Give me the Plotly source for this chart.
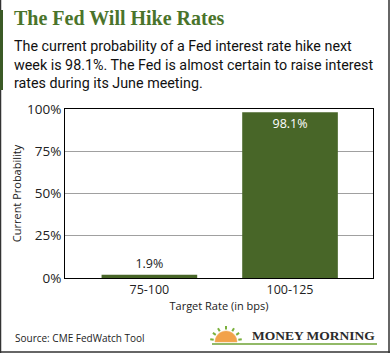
import plotly.graph_objects as go
import math

# ---- data ----
categories = ["75-100", "100-125"]
probabilities = [1.9, 98.1]
y_ticks = [0, 25, 50, 75, 100]
y_tick_labels = ["0%", "25%", "50%", "75%", "100%"]

W, H = 390, 353
L, R, T, B = 65, 17, 109, 75
PW, PH = W - L - R, H - T - B

def px(x):
    return (x - L) / PW

def py(y):
    return (H - B - y) / PH

BAR = "#486628"
GREEN_TITLE = "#4a742b"
TXT = "#222222"
FONT = "Open Sans, Noto Sans, sans-serif"

fig = go.Figure()
fig.add_trace(go.Bar(
    x=categories, y=probabilities,
    marker=dict(color=BAR, line=dict(width=0)),
    width=0.68,
    text=[f"{v}%" for v in probabilities],
    textposition=["outside", "inside"],
    insidetextanchor="end",
    textfont=dict(color=[TXT, "white"], size=12.5, family=FONT),
    cliponaxis=False,
    hoverinfo="skip",
))

fig.update_layout(
    width=W, height=H,
    margin=dict(l=L, r=R, t=T, b=B),
    paper_bgcolor="white", plot_bgcolor="white",
    showlegend=False,
    font=dict(family=FONT, color=TXT, size=12),
    xaxis=dict(type="category", range=[-0.6, 1.59], showline=True, mirror=True,
               linecolor="black", linewidth=1, ticks="", showgrid=False,
               tickfont=dict(size=12.5, color=TXT),
               title=dict(text="Target Rate (in bps)", font=dict(size=11, color=TXT), standoff=4)),
    yaxis=dict(range=[0, 100], tickvals=y_ticks, ticktext=y_tick_labels,
               showline=True, mirror=True, linecolor="black", linewidth=1,
               gridcolor="#a0a0a0", gridwidth=1, zeroline=False, ticks="",
               tickfont=dict(size=13.5, color=TXT),
               title=dict(text="Current Probability", font=dict(size=11, color=TXT), standoff=3)),
    bargap=0.3,
)

annotations = [
    dict(text="<b>The Fed Will Hike Rates</b>", x=px(12), y=py(18), xref="paper", yref="paper",
         xanchor="left", yanchor="middle", showarrow=False,
         font=dict(family="Liberation Serif, DejaVu Serif, serif", size=20, color=GREEN_TITLE)),
    dict(text="The current probability of a Fed interest rate hike next<br>week is 98.1%. The Fed is almost certain to raise interest<br>rates during its June meeting.",
         x=px(12), y=py(47), xref="paper", yref="paper", xanchor="left", yanchor="top",
         yshift=11, align="left", showarrow=False,
         font=dict(family="Roboto, Liberation Sans, sans-serif", size=14.3, color="#111111")),
    dict(text="Source: CME FedWatch Tool", x=px(13), y=py(338), xref="paper", yref="paper",
         xanchor="left", yanchor="middle", showarrow=False,
         font=dict(family=FONT, size=10, color=TXT)),
    dict(text="<b>MONEY MORNING</b>", x=px(377), y=py(335), xref="paper", yref="paper",
         xanchor="right", yanchor="middle", showarrow=False,
         font=dict(family="Liberation Serif, DejaVu Serif, serif", size=13.5, color="#2b2b2b")),
]

shapes = [
    dict(type="line", xref="paper", yref="paper", x0=px(0.5), x1=px(0.5), y0=py(0), y1=py(353), line=dict(color="#333333", width=1.5)),
    dict(type="line", xref="paper", yref="paper", x0=px(389), x1=px(389), y0=py(0), y1=py(353), line=dict(color="#333333", width=1.5)),
    dict(type="line", xref="paper", yref="paper", x0=px(0), x1=px(390), y0=py(352), y1=py(352), line=dict(color="#333333", width=1.5)),
    dict(type="rect", xref="paper", yref="paper", x0=px(0), x1=px(3), y0=py(10), y1=py(90), fillcolor="#3b5a26", line=dict(width=0)),
    dict(type="line", xref="paper", yref="paper", x0=px(212), x1=px(377), y0=py(344), y1=py(344), line=dict(color="#6ea234", width=1.5)),
]

cx, cy, r = 226, 342, 11
pts = []
for i in range(0, 181, 10):
    a = math.radians(i)
    pts.append((px(cx + r * math.cos(a)), py(cy - r * math.sin(a))))
path = "M " + " L ".join(f"{x:.5f},{y:.5f}" for x, y in pts) + " Z"
shapes.append(dict(type="path", xref="paper", yref="paper", path=path, fillcolor="#f2a24a", line=dict(color="#f0b060", width=0.5)))
for deg in [10, 35, 60, 90, 120, 145, 170]:
    a = math.radians(deg)
    x0, y0 = cx + (r + 1.5) * math.cos(a), cy - (r + 1.5) * math.sin(a)
    x1, y1 = cx + (r + 5) * math.cos(a), cy - (r + 5) * math.sin(a)
    shapes.append(dict(type="line", xref="paper", yref="paper", x0=px(x0), y0=py(y0), x1=px(x1), y1=py(y1),
                       line=dict(color="#7ab03c", width=2)))

fig.update_layout(annotations=annotations, shapes=shapes)
fig.write_html("out.html")
